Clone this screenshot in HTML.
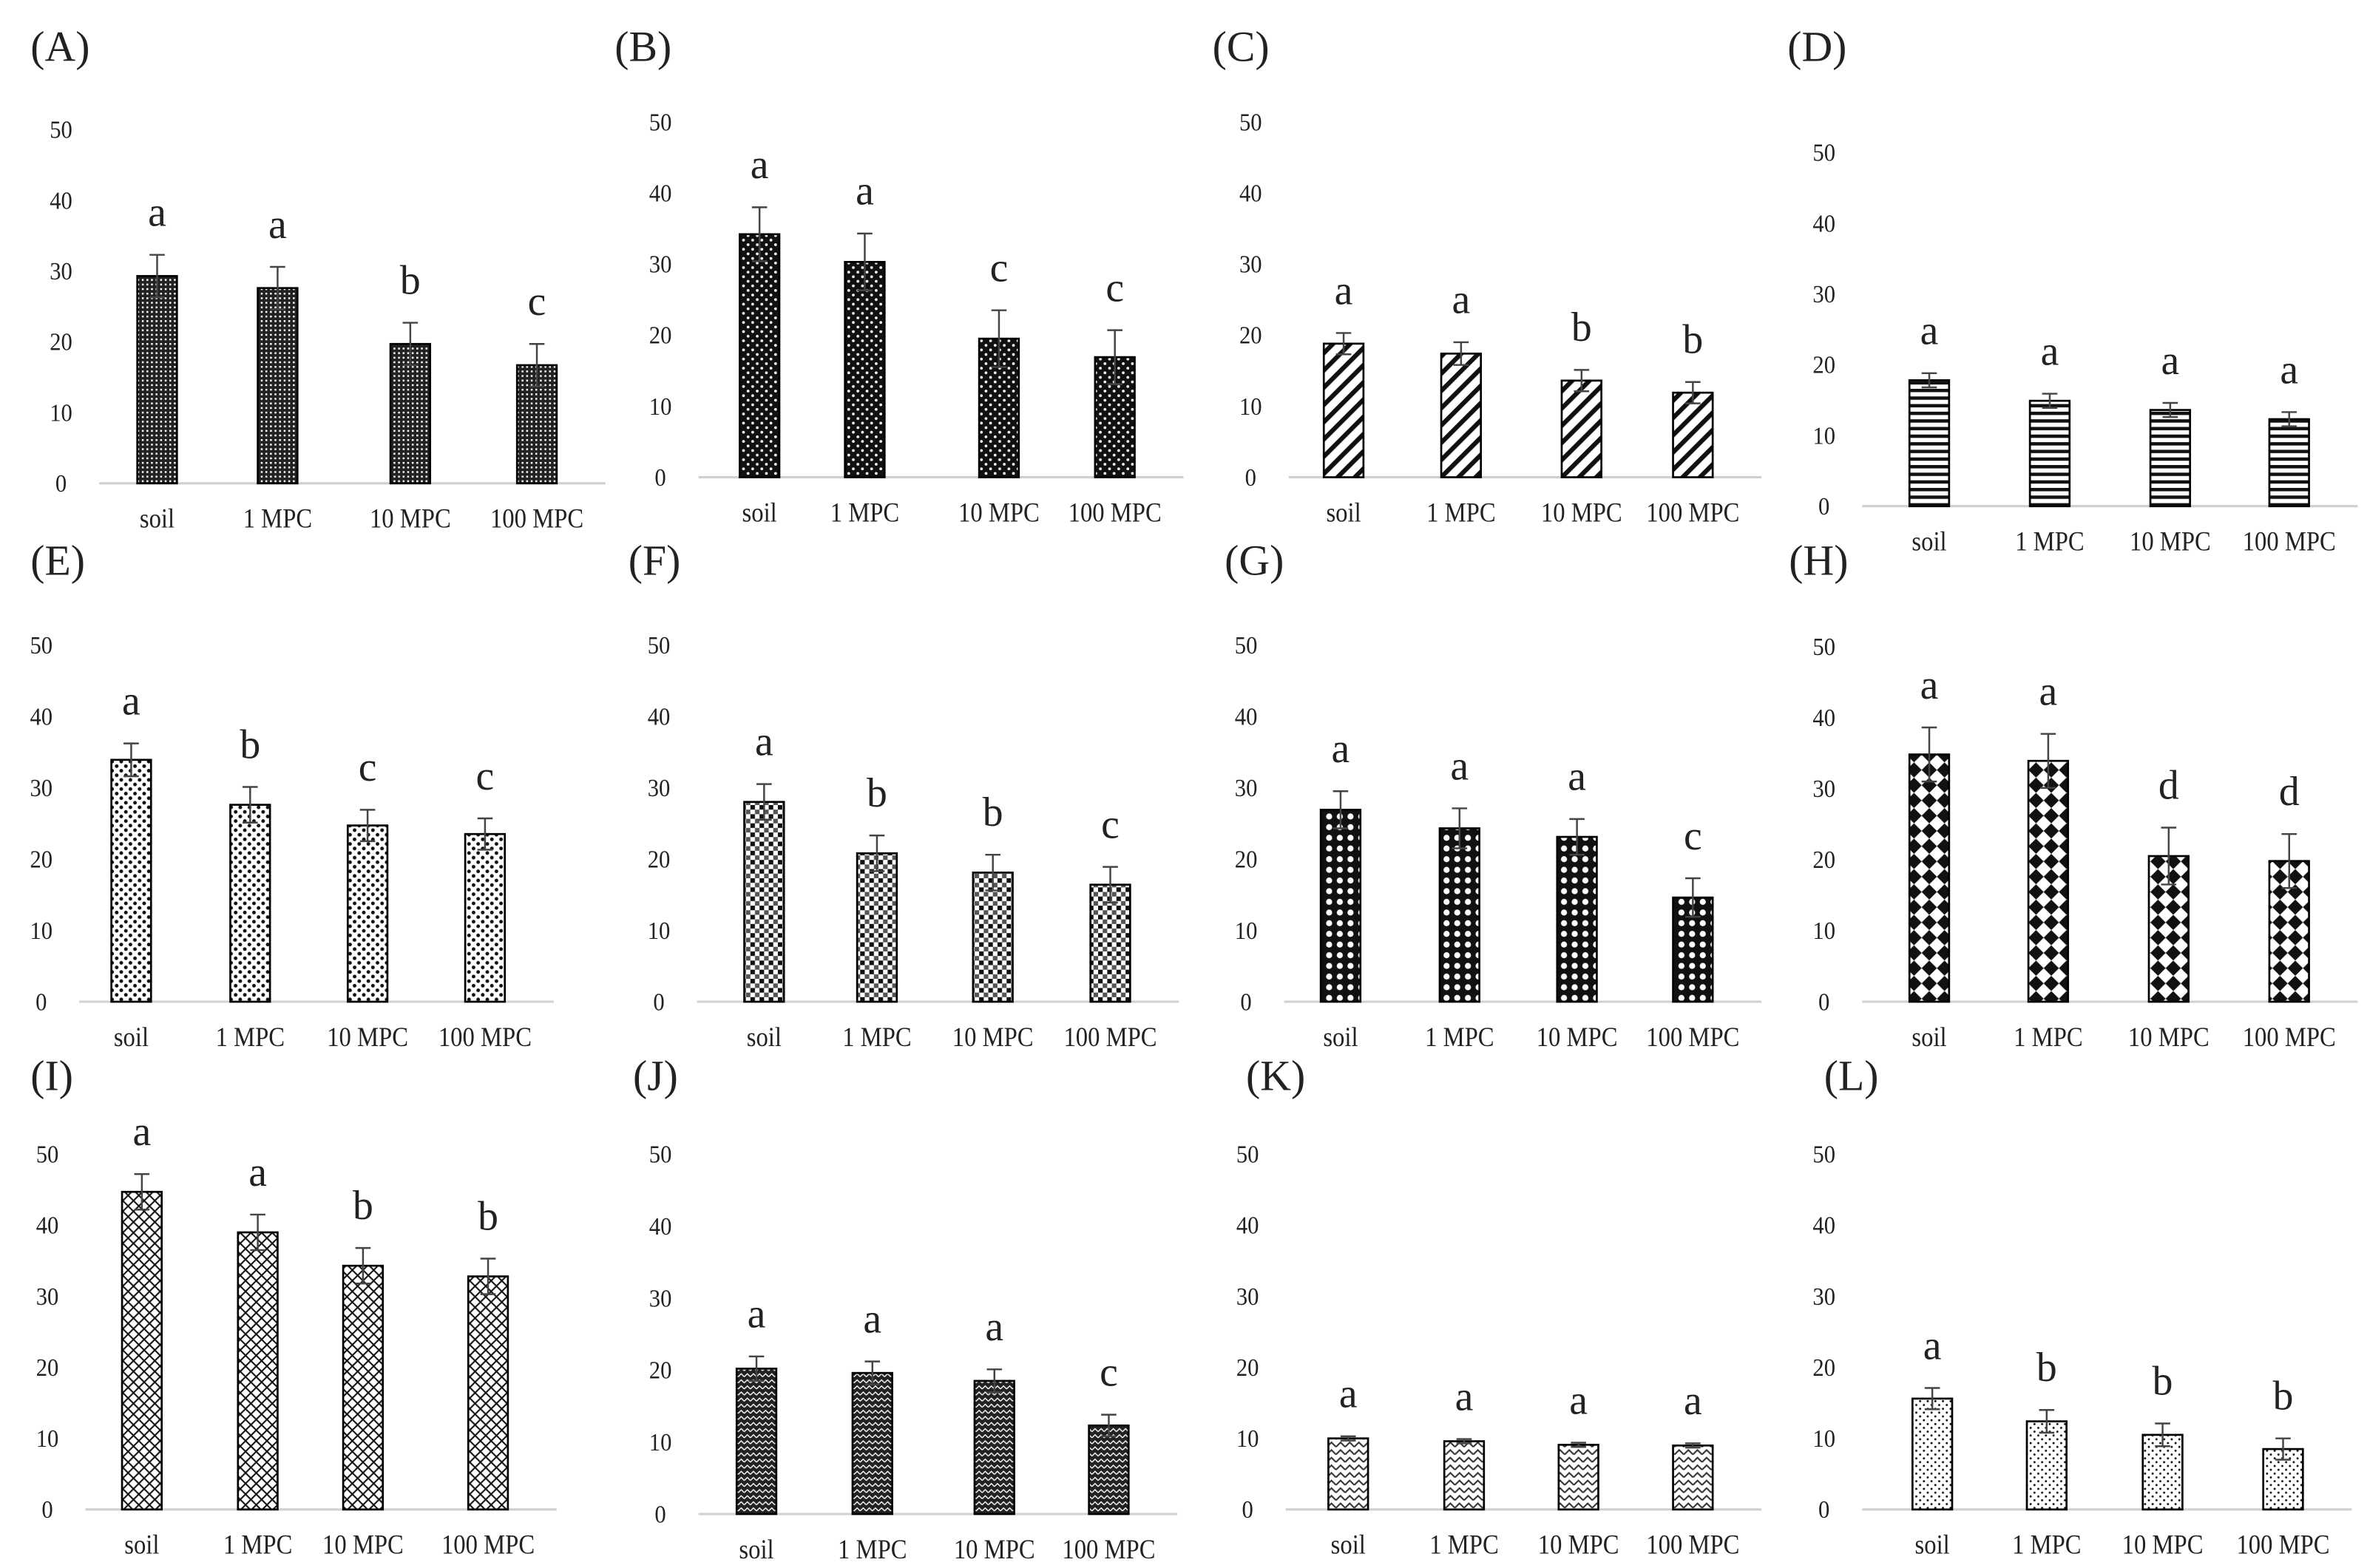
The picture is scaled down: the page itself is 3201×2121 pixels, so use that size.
<!DOCTYPE html>
<html><head><meta charset="utf-8"><style>
html,body{margin:0;padding:0;background:#fff;}
svg{display:block;}
text{font-family:"Liberation Serif",serif;fill:#222;}
</style></head><body>
<svg id="fig" width="3201" height="2121" viewBox="0 0 1552 1028.4" xmlns="http://www.w3.org/2000/svg">
<defs>
<pattern id="pA" width="3" height="3" patternUnits="userSpaceOnUse"><rect width="3" height="3" fill="#222"/><rect x="0" y="0" width="1.2" height="1.2" fill="#fff"/></pattern>
<pattern id="pB" width="6" height="6" patternUnits="userSpaceOnUse"><rect width="6" height="6" fill="#111"/><circle cx="1.5" cy="1.5" r="0.9" fill="#fff"/><circle cx="4.5" cy="4.5" r="0.9" fill="#fff"/></pattern>
<pattern id="pC" width="8" height="8" patternUnits="userSpaceOnUse" patternTransform="rotate(45)"><rect width="8" height="8" fill="#fff"/><rect width="3" height="8" fill="#111"/></pattern>
<pattern id="pD" width="5" height="5" patternUnits="userSpaceOnUse"><rect width="5" height="5" fill="#fff"/><rect width="5" height="2.2" fill="#111"/></pattern>
<pattern id="pE" width="6" height="6" patternUnits="userSpaceOnUse"><rect width="6" height="6" fill="#fff"/><circle cx="1.5" cy="1.5" r="1.2" fill="#111"/><circle cx="4.5" cy="4.5" r="1.2" fill="#111"/></pattern>
<pattern id="pF" width="6" height="6" patternUnits="userSpaceOnUse"><rect width="6" height="6" fill="#fff"/><rect width="3" height="3" fill="#111"/><rect x="3" y="3" width="3" height="3" fill="#555"/></pattern>
<pattern id="pG" width="7" height="7" patternUnits="userSpaceOnUse"><rect width="7" height="7" fill="#111"/><circle cx="3.5" cy="3.5" r="2" fill="#fff"/></pattern>
<pattern id="pH" width="10" height="10" patternUnits="userSpaceOnUse"><rect width="10" height="10" fill="#fff"/><polygon points="5,0 10,5 5,10 0,5" fill="#111"/></pattern>
<pattern id="pI" width="7" height="7" patternUnits="userSpaceOnUse"><rect width="7" height="7" fill="#fff"/><path d="M0,0L7,7M7,0L0,7" stroke="#111" stroke-width="1"/></pattern>
<pattern id="pJ" width="4" height="4" patternUnits="userSpaceOnUse"><rect width="4" height="4" fill="#222"/><path d="M0,3L2,1L4,3" stroke="#fff" stroke-width="0.7" fill="none"/></pattern>
<pattern id="pK" width="6" height="5" patternUnits="userSpaceOnUse"><rect width="6" height="5" fill="#fff"/><path d="M0,4L3,1L6,4" stroke="#333" stroke-width="1" fill="none"/></pattern>
<pattern id="pL" width="5" height="5" patternUnits="userSpaceOnUse"><rect width="5" height="5" fill="#fff"/><circle cx="1.5" cy="1.5" r="0.7" fill="#111"/><circle cx="4" cy="4" r="0.7" fill="#111"/></pattern>
</defs>
</svg>
<script>
const categories = ["soil","1 MPC","10 MPC","100 MPC"];
const yTicks = [0,10,20,30,40,50];
const panelNames = ["A","B","C","D","E","F","G","H","I","J","K","L"];
const valuesA = [29.3,27.6,19.7,16.7]; const errA = [3,3,3,3]; const lettersA = ["a","a","b","c"];
const valuesB = [34.2,30.3,19.5,16.9]; const errB = [3.8,4,4,3.8]; const lettersB = ["a","a","c","c"];
const valuesC = [18.8,17.4,13.6,11.9]; const errC = [1.5,1.6,1.5,1.5]; const lettersC = ["a","a","b","b"];
const valuesD = [17.8,14.9,13.6,12.3]; const errD = [1,1,1,1]; const lettersD = ["a","a","a","a"];
const valuesE = [33.9,27.6,24.7,23.5]; const errE = [2.3,2.5,2.2,2.2]; const lettersE = ["a","b","c","c"];
const valuesF = [28,20.8,18.1,16.4]; const errF = [2.5,2.5,2.5,2.5]; const lettersF = ["a","b","b","c"];
const valuesG = [26.9,24.3,23.1,14.6]; const errG = [2.6,2.8,2.5,2.7]; const lettersG = ["a","a","a","c"];
const valuesH = [34.8,33.9,20.5,19.8]; const errH = [3.8,3.8,4,3.8]; const lettersH = ["a","a","d","d"];
const valuesI = [44.7,39,34.3,32.8]; const errI = [2.5,2.5,2.5,2.5]; const lettersI = ["a","a","b","b"];
const valuesJ = [20.2,19.6,18.5,12.3]; const errJ = [1.7,1.6,1.6,1.5]; const lettersJ = ["a","a","a","c"];
const valuesK = [10,9.6,9.1,9]; const errK = [0.3,0.3,0.3,0.3]; const lettersK = ["a","a","a","a"];
const valuesL = [15.6,12.4,10.5,8.5]; const errL = [1.5,1.6,1.6,1.5]; const lettersL = ["a","b","b","b"];
const allValues=[valuesA,valuesB,valuesC,valuesD,valuesE,valuesF,valuesG,valuesH,valuesI,valuesJ,valuesK,valuesL];
const allErr=[errA,errB,errC,errD,errE,errF,errG,errH,errI,errJ,errK,errL];
const allLetters=[lettersA,lettersB,lettersC,lettersD,lettersE,lettersF,lettersG,lettersH,lettersI,lettersJ,lettersK,lettersL];
const layout=[
 {lx:20,ly:30,tx:40,y50:85,y0:317,c:[103,182,269,352]},
 {lx:403,ly:30,tx:433,y50:80,y0:313,c:[498,567,655,731]},
 {lx:795,ly:30,tx:820,y50:80,y0:313,c:[881,958,1037,1110]},
 {lx:1172,ly:30,tx:1196,y50:100,y0:332,c:[1265,1344,1423,1501]},
 {lx:20,ly:367,tx:27,y50:423,y0:657,c:[86,164,241,318]},
 {lx:412,ly:367,tx:432,y50:423,y0:657,c:[501,575,651,728]},
 {lx:803,ly:367,tx:817,y50:423,y0:657,c:[879,957,1034,1110]},
 {lx:1173,ly:367,tx:1196,y50:424,y0:657,c:[1265,1343,1422,1501]},
 {lx:20,ly:705,tx:31,y50:757,y0:990,c:[93,169,238,320]},
 {lx:415,ly:705,tx:433,y50:757,y0:993,c:[496,572,652,727]},
 {lx:817,ly:705,tx:818,y50:757,y0:990,c:[884,960,1035,1110]},
 {lx:1196,ly:705,tx:1196,y50:757,y0:990,c:[1267,1342,1418,1497]}
];
const NS="http://www.w3.org/2000/svg";
const svg=document.getElementById('fig');
function mk(tag,attrs,parent){const e=document.createElementNS(NS,tag);for(const k in attrs)e.setAttribute(k,attrs[k]);(parent||svg).appendChild(e);return e;}
panelNames.forEach((p,i)=>{
 const L=layout[i];
 const g=mk('g',{});
 
 
 const yS=v=>L.y0-(L.y0-L.y50)*v/50;
 const t=mk('text',{x:L.lx,y:L.ly+10,'font-size':28},g);t.textContent='('+p+')';
 
 
 yTicks.forEach(v=>{const tt=mk('text',{transform:`translate(${L.tx},${yS(v)+5.5}) scale(0.9,1)`,'font-size':16.5,'text-anchor':'middle'},g);tt.textContent=v;
  
  });
 const ax=mk('line',{x1:L.tx+25,x2:L.c[3]+45,y1:L.y0,y2:L.y0,stroke:'#d0d0d0','stroke-width':1.5},g);
 
 
 categories.forEach((c,j)=>{
  const v=allValues[i][j],e=allErr[i][j],cx=L.c[j],w=26;
  const b=mk('rect',{x:cx-w/2,y:yS(v),width:w,height:L.y0-yS(v),fill:'url(#p'+p+')',stroke:'#000','stroke-width':1.3},g);
  
  
  const eb=mk('path',{d:`M${cx},${yS(v-e)}V${yS(v+e)}M${cx-5},${yS(v+e)}H${cx+5}M${cx-5},${yS(v-e)}H${cx+5}`,stroke:'#444','stroke-width':1.2,fill:'none'},g);
  
  
  const lt=mk('text',{x:cx,y:yS(v+e)-19,'font-size':27,'text-anchor':'middle'},g);lt.textContent=allLetters[i][j];
  
  
  const cl=mk('text',{transform:`translate(${cx},${L.y0+29}) scale(0.88,1)`,'font-size':18,'text-anchor':'middle'},g);cl.textContent=c;
  
  
 });
});
</script>
</body></html>
